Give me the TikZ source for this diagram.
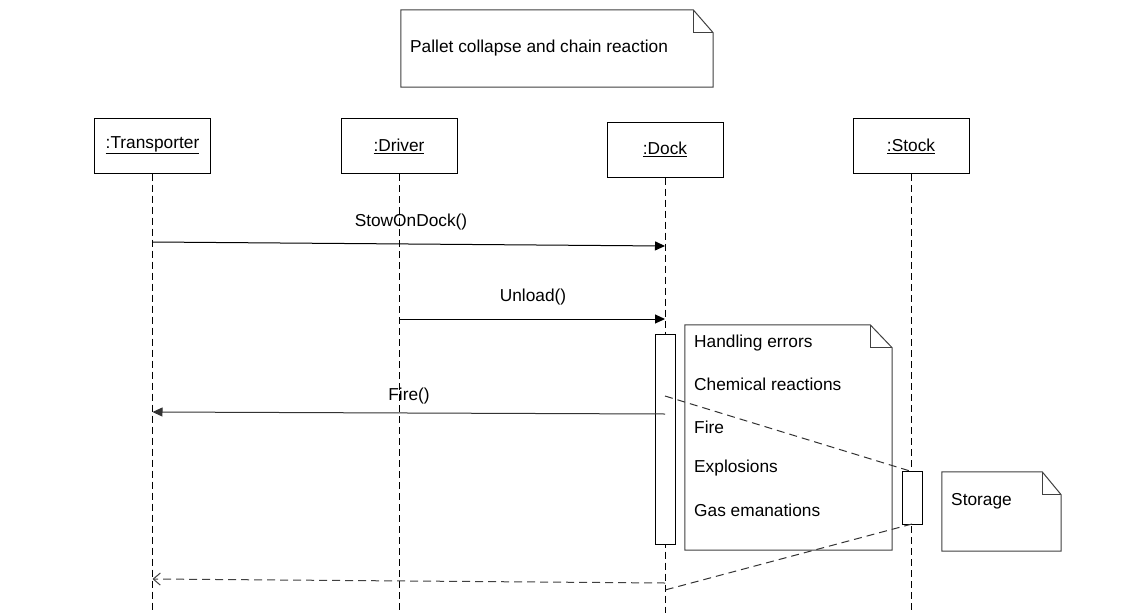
\documentclass[tikz,border=0pt]{standalone}
\usepackage{fontspec}
\setmainfont{Liberation Sans}
\usetikzlibrary{arrows.meta}
\tikzset{
 fs/.style={font=\fontsize{17.3}{20}\selectfont},
 obj/.style={draw, line width=1pt, minimum width=116pt, minimum height=55pt, inner sep=0pt, fs},
 life/.style={line width=1pt, dash pattern=on 7pt off 4pt},
 msg/.style={line width=1pt, -{Triangle[length=10pt,width=9pt]}},
 ret/.style={line width=1pt, dash pattern=on 8pt off 5pt, black!75, -{Straight Barb[length=7pt,width=12pt]}},
 link/.style={line width=1pt, dash pattern=on 8pt off 5pt, black!80},
 lbl/.style={fs, inner sep=0pt},
 act/.style={draw, fill=white, line width=1pt, minimum width=20pt, inner sep=0pt},
 notebg/.style={fill=white, draw=black!75, line width=1pt},
 noteframe/.style={inner sep=0pt, draw=none},
}
\begin{document}
\begin{tikzpicture}[x=1pt,y=-1pt]
\useasboundingbox (0,0) rectangle (1140,613);
% objects
\node[obj] (T) at (152.5,145.5) {\underline{:Transporter}};
\node[obj] (D) at (399,146) {\underline{:Driver}};
\node[obj] (K) at (665,149.5) {\underline{:Dock}};
\node[obj] (S) at (911,146) {\underline{:Stock}};
% lifeline ends
\coordinate (Te) at (152.5,613);
\coordinate (De) at (399,613);
\coordinate (Ke) at (665,613);
\coordinate (Se) at (911,613);
\draw[life] (T.south) -- (Te);
\draw[life] (D.south) -- (De);
\draw[life] (K.south) -- (Ke);
\draw[life] (S.south) -- (Se);
% activations
\node[act, minimum height=210pt] (KA) at (665,439) {};
\node[act, minimum height=53pt] (SA) at (912,497.5) {};
% top note
\node[noteframe, minimum width=312pt, minimum height=77pt] (N1) at (557,48.5) {};
\draw[notebg] (N1.north west) -- ([xshift=-20pt]N1.north east) -- ([yshift=-23pt]N1.north east) -- (N1.south east) -- (N1.south west) -- cycle;
\draw[notebg, fill=none] ([xshift=-20pt]N1.north east) |- ([yshift=-23pt]N1.north east);
\node[lbl, anchor=west] (N1t) at (410,48) {Pallet collapse and chain reaction};
% middle note
\node[noteframe, minimum width=207pt, minimum height=225pt] (N2) at (788.5,437.5) {};
\draw[notebg] (N2.north west) -- ([xshift=-22pt]N2.north east) -- ([yshift=-23pt]N2.north east) -- (N2.south east) -- (N2.south west) -- cycle;
\draw[notebg, fill=none] ([xshift=-22pt]N2.north east) |- ([yshift=-23pt]N2.north east);
\node[lbl, anchor=west] (L1) at (694,343) {Handling errors};
\node[lbl, anchor=west] (L2) at (694,384) {Chemical reactions};
\node[lbl, anchor=west] (L3) at (694,427) {Fire};
\node[lbl, anchor=west] (L4) at (694,468) {Explosions};
\node[lbl, anchor=west] (L5) at (694,510) {Gas emanations};
% storage note
\node[noteframe, minimum width=119pt, minimum height=79pt] (N3) at (1001.5,511.5) {};
\draw[notebg] (N3.north west) -- ([xshift=-19pt]N3.north east) -- ([yshift=-23pt]N3.north east) -- (N3.south east) -- (N3.south west) -- cycle;
\draw[notebg, fill=none] ([xshift=-19pt]N3.north east) |- ([yshift=-23pt]N3.north east);
\node[lbl, anchor=west] (N3t) at (951,501) {Storage};
% message points
\coordinate (m1a) at (152.5,242);
\coordinate (m1b) at (665,246);
\coordinate (m2a) at (399,319);
\coordinate (m2b) at (665,319);
\coordinate (m3a) at (665,414);
\coordinate (m3b) at (152.5,412);
\coordinate (m4a) at (665,583);
\coordinate (m4b) at (152.5,579);
\coordinate (l1a) at (665,396);
\coordinate (l1b) at (910,471);
\coordinate (l2a) at (912,524);
\coordinate (l2b) at (665,590);
% messages
\draw[msg] (m1a) -- (m1b);
\node[lbl] (m1l) at (411,222) {StowOnDock()};
\draw[msg] (m2a) -- (m2b);
\node[lbl] (m2l) at (533,297) {Unload()};
\draw[msg, draw=black!80] (m3a) -- (m3b);
\node[lbl] (m3l) at (409,396) {Fire()};
\draw[ret] (m4a) -- (m4b);
\draw[link] (l1a) -- (l1b);
\draw[link] (l2a) -- (l2b);
\end{tikzpicture}
\end{document}
